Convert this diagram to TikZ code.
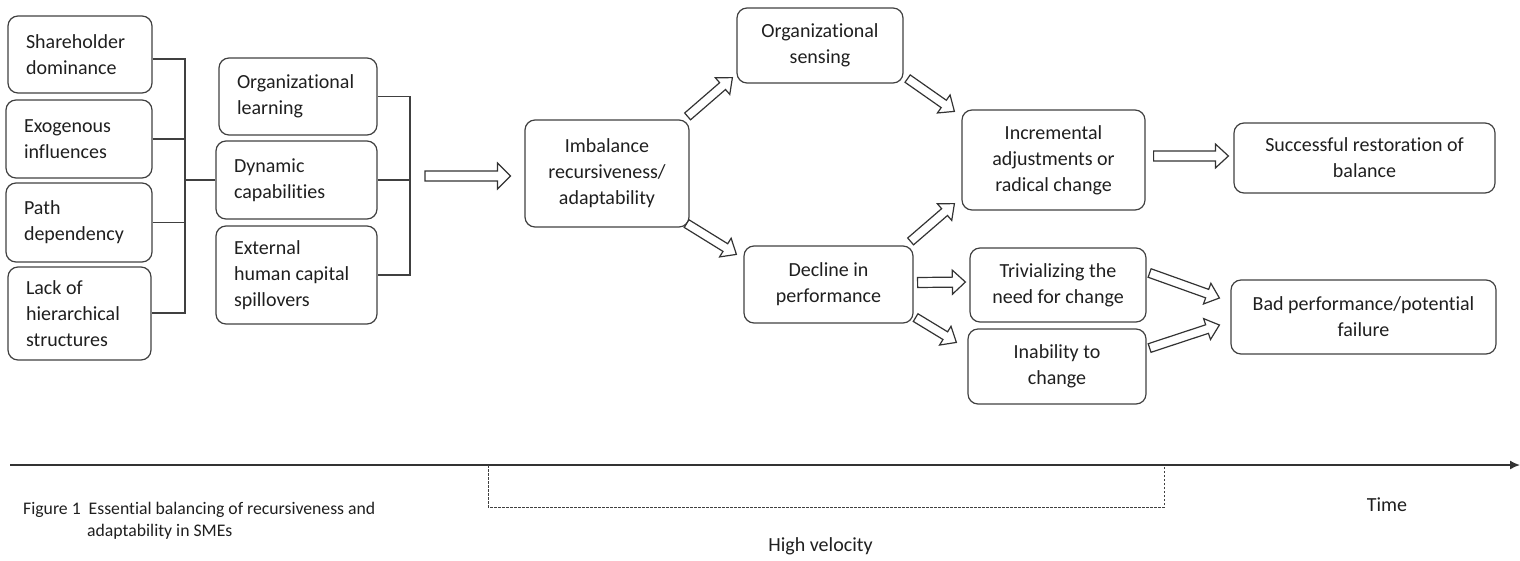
\documentclass[tikz,border=0pt]{standalone}
\usepackage{fontspec}
\setmainfont{Carlito}[Ligatures=NoCommon]
\usetikzlibrary{calc,arrows.meta}
\hyphenpenalty=10000
\exhyphenpenalty=10000
\newcommand{\blockarr}[4]{% #1 shaft half width, #2 head half width, #3 tail, #4 tip
  \path (#3) coordinate (bt) (#4) coordinate (bh);
  \path ($(bh)!13pt!(bt)$) coordinate (bm);
  \draw[barrow] ($(bt)!#1!90:(bh)$) -- ($(bm)!#1!90:(bh)$) -- ($(bm)!#2!90:(bh)$) -- (bh)
     -- ($(bm)!#2!-90:(bh)$) -- ($(bm)!#1!-90:(bh)$) -- ($(bt)!#1!-90:(bh)$) -- cycle;
}
\begin{document}
\begin{tikzpicture}[x=1pt,y=-1pt,
  box/.style={draw=black!75, line width=1.2pt, rounded corners=10pt, inner sep=0pt,
     font=\fontsize{20}{26}\selectfont, text=black!88},
  lbox/.style={box, align=flush left, inner xsep=18pt},
  cbox/.style={box, align=center},
  conn/.style={draw=black!75, line width=1.2pt},
  barrow/.style={draw=black!80, line width=1.2pt, fill=white, line join=miter},
  lbl/.style={font=\fontsize{20}{24}\selectfont, text=black!88, inner sep=0pt},
  capt/.style={font=\fontsize{17.7}{22}\selectfont, text=black!88, inner sep=0pt}]
\useasboundingbox (0,0) rectangle (1520,560);

% left column
\node[lbox, text width=108pt, minimum height=77pt] (sh) at (80,54.5) {Shareholder\\dominance};
\node[lbox, text width=110pt, minimum height=78pt] (ex) at (79,139) {Exogenous\\influences};
\node[lbox, text width=110pt, minimum height=79pt] (pd) at (79,222.5) {Path\\dependency};
\node[lbox, text width=107pt, minimum height=93pt] (lh) at (79.5,313.5) {Lack of\\hierarchical\\structures};

% second column
\node[lbox, text width=122pt, minimum height=77pt] (ol) at (298,96.5) {Organizational\\learning};
\node[lbox, text width=125pt, minimum height=78pt] (dc) at (296.5,180) {Dynamic\\capabilities};
\node[lbox, text width=125pt, minimum height=98pt] (eh) at (296.5,275) {External\\human capital\\spillovers};

% right part
\node[cbox, minimum width=164pt, minimum height=107pt] (imb) at (607,173.5) {Imbalance\\recursiveness/\\adaptability};
\node[cbox, minimum width=166pt, minimum height=75pt] (os) at (820,45.5) {Organizational\\sensing};
\node[cbox, minimum width=169pt, minimum height=77pt] (dec) at (828.5,284.5) {Decline in\\performance};
\node[cbox, minimum width=183pt, minimum height=100pt] (inc) at (1053.5,160) {Incremental\\adjustments or\\radical change};
\node[cbox, minimum width=176pt, minimum height=74pt] (triv) at (1058,285) {Trivializing the\\need for change};
\node[cbox, minimum width=178pt, minimum height=75pt] (inab) at (1057,366.5) {Inability to\\change};
\node[cbox, minimum width=261pt, minimum height=70pt] (succ) at (1364.5,158) {Successful restoration of\\balance};
\node[cbox, minimum width=265pt, minimum height=74pt] (bad) at (1363.5,317) {Bad performance/potential\\failure};

% left bracket
\coordinate (lbt) at (185,59);
\coordinate (lbb) at (185,313);
\draw[conn] (sh.east |- lbt) -- (lbt) -- (lbb) -- (lh.east |- lbb);
\draw[conn] (ex.east) -- (ex.east -| lbt);
\draw[conn] (pd.east) -- (pd.east -| lbt);
\draw[conn] (dc.west) -- (dc.west -| lbt);

% right bracket
\coordinate (rbt) at (410,96.5);
\draw[conn] (ol.east) -- (ol.east -| rbt) -- (eh.east -| rbt) -- (eh.east);
\draw[conn] (dc.east) -- (dc.east -| rbt);
\coordinate (rbm) at (dc.east -| rbt);

% block arrows
\blockarr{5pt}{13pt}{$(rbm)+(15,-4)$}{$(imb.west)+(-14,2.5)$}
\blockarr{4.5pt}{11pt}{$(imb.north east)+(-2,-3)$}{$(os.south west)+(-4,-6)$}
\blockarr{4.5pt}{11pt}{$(imb.south east)+(-3,-4)$}{$(dec.north west)+(-7,9)$}
\blockarr{4.5pt}{11pt}{$(os.south east)+(4,-5)$}{$(inc.north west)+(-7,2)$}
\blockarr{4.5pt}{11pt}{$(dec.north east)+(-3,-4)$}{$(inc.south west)+(-7,-7)$}
\blockarr{5pt}{12pt}{$(dec.east)+(4,-2)$}{$(triv.west)+(-4,-3)$}
\blockarr{4.5pt}{11pt}{$(dec.south east)+(2,-6)$}{$(inab.north west)+(-11,14)$}
\blockarr{5pt}{12pt}{$(inc.east)+(8,-4)$}{$(succ.west)+(-5,-2)$}
\blockarr{4.5pt}{11pt}{$(triv.east)+(3,-12)$}{$(bad.west)+(-11,-19)$}
\blockarr{4.5pt}{11pt}{$(inab.east)+(3,-18.5)$}{$(bad.west)+(-11,8)$}

% time axis
\coordinate (ax0) at (10,465);
\coordinate (ax1) at (1520,465);
\draw[line width=1.6pt, draw=black!80, -{Latex[length=10pt,width=9pt]}] (ax0) -- (ax1);

% high velocity bracket
\coordinate (hv1) at (488,465);
\coordinate (hv2) at (1164,465);
\draw[black!75, line width=0.9pt, dash pattern=on 2.5pt off 1.5pt] (hv1) -- ++(0,42) -| (hv2);

% labels
\node[lbl] (time) at (1387,505) {Time};
\node[lbl] (hvel) at (820.5,546) {High velocity};
\node[capt, anchor=west] (cap1) at (23,510) {Figure 1\ \ Essential balancing of recursiveness and};
\node[capt, anchor=west] (cap2) at (87,532) {adaptability in SMEs};
\end{tikzpicture}
\end{document}
